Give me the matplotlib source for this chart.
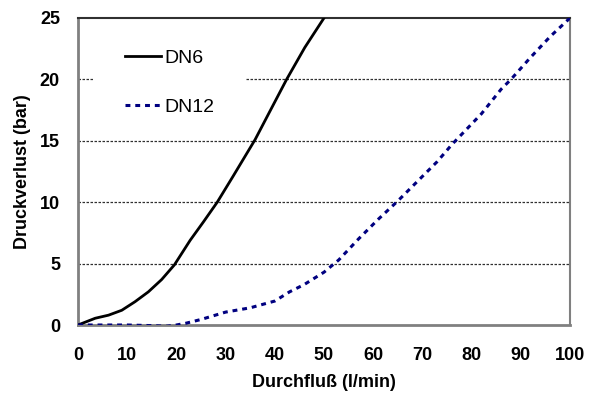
import matplotlib.pyplot as plt
from matplotlib.patches import Rectangle

# Durchfluss (l/min) / Druckverlust (bar)
x_dn6 = [0, 3.5, 6.2, 8.9, 11.6, 14.3, 17, 19.6, 22.8, 25.5, 28.3, 31.5, 34.5, 36,
         39, 42.4, 46.1, 50]
y_dn6 = [0, 0.55, 0.8, 1.2, 1.9, 2.7, 3.7, 4.9, 6.9, 8.4, 10.0, 12.1, 14.1, 15.1,
         17.4, 20.0, 22.6, 25.0]

x_dn12 = [0, 5, 10, 15, 18, 20, 22, 25, 30, 35, 40, 43, 46, 50, 53, 57, 61, 65, 68,
          73, 76, 82, 86, 88, 92, 96, 100]
y_dn12 = [0, 0, 0, -0.05, -0.1, 0, 0.15, 0.45, 1.05, 1.4, 1.95, 2.7, 3.3, 4.3, 5.3,
          7.0, 8.6, 10.1, 11.3, 13.3, 14.7, 17.2, 19.2, 20.0, 21.8, 23.5, 25.0]

x_ticks = [0, 10, 20, 30, 40, 50, 60, 70, 80, 90, 100]
y_ticks = [0, 5, 10, 15, 20, 25]

plt.rcParams['font.family'] = ['Liberation Sans', 'DejaVu Sans']

fig = plt.figure(figsize=(5.9, 3.94), dpi=100)
ax = fig.add_axes([78 / 590, 1 - 325 / 394, 492 / 590, 307 / 394])

for yv in y_ticks[1:-1]:
    ax.axhline(yv, color='#303030', lw=0.9, ls=(0, (2, 1.2)), zorder=1)

# white legend background that interrupts the 20 bar grid line
ax.add_patch(Rectangle((0.0305, 0.668), 0.309, 0.277, transform=ax.transAxes,
                       facecolor='white', edgecolor='none', zorder=1.5))

ax.plot(x_dn6, y_dn6, color='black', lw=2, label='DN6', zorder=3)
ax.plot(x_dn12, y_dn12, color='#000080', lw=2.2, ls=(0, (1.6, 1.6)), label='DN12', zorder=3)

ax.set_xlim(0, 100)
ax.set_ylim(0, 25)
ax.set_xticks(x_ticks)
ax.set_yticks(y_ticks)
ax.tick_params(length=0, labelsize=13)
ax.tick_params(axis='x', pad=16)
ax.tick_params(axis='y', pad=13)
for lab in ax.get_xticklabels() + ax.get_yticklabels():
    lab.set_fontweight('bold')

ax.set_xlabel('Durchfluß (l/min)', fontsize=13, fontweight='bold', labelpad=7)
ax.set_ylabel('Druckverlust (bar)', fontsize=13, fontweight='bold', labelpad=6)

ax.spines['left'].set_color('#808080')
ax.spines['bottom'].set_color('#808080')
ax.spines['left'].set_linewidth(2)
ax.spines['bottom'].set_linewidth(2)
ax.spines['top'].set_color('#303030')
ax.spines['top'].set_linewidth(1.5)
ax.spines['right'].set_color('#808080')
ax.spines['right'].set_linewidth(1.5)

ax.legend(loc='upper left', bbox_to_anchor=(0.059, 0.954), fontsize=14,
          frameon=False, handlelength=1.85, handletextpad=0.2,
          labelspacing=1.6, borderpad=0.4)

fig.savefig('out.png', dpi=100)
